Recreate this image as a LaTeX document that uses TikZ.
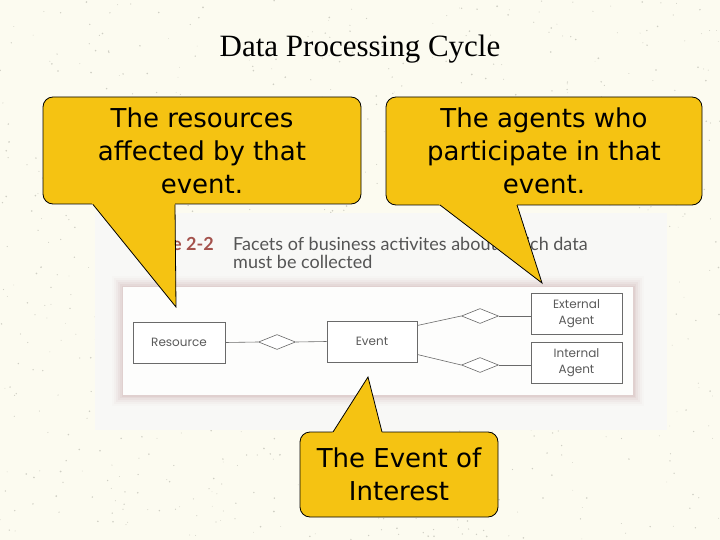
\documentclass[tikz,border=0pt]{standalone}
\usepackage{fontspec}
\setmainfont{Liberation Serif}
\newfontfamily\calloutfont{DejaVu Sans}
\newfontfamily\captionfont{Lato}
\newfontfamily\erfont{Poppins}
\usetikzlibrary{shapes.geometric,calc}
\definecolor{bg}{HTML}{FCFBF0}
\definecolor{speck}{HTML}{9A9A90}
\definecolor{callyellow}{HTML}{F5C312}
\definecolor{figbg}{HTML}{F8F8F6}
\definecolor{shadowpink}{HTML}{C09A9A}
\definecolor{captiongray}{HTML}{555555}
\definecolor{figred}{HTML}{A4524C}
\definecolor{ergray}{HTML}{6A6A6A}
\begin{document}
\begin{tikzpicture}[x=1pt,y=-1pt,
  callout/.style={draw=black, line width=0.8pt, fill=callyellow, rounded corners=10pt,
    align=center, inner sep=0pt, font=\calloutfont\fontsize{26}{33}\selectfont},
  pointeredge/.style={draw=black, line width=0.8pt, line join=miter},
  entity/.style={draw=ergray, line width=0.6pt, fill=white, minimum width=91pt,
    minimum height=41pt, align=center, inner sep=0pt, text=ergray!85!black,
    font=\erfont\fontsize{12}{15.5}\selectfont},
  rel/.style={diamond, draw=ergray, line width=0.6pt, fill=white, minimum width=37pt,
    minimum height=15pt, inner sep=0pt},
  link/.style={draw=ergray, line width=0.6pt},
]
% background
\fill[bg] (0,0) rectangle (720,540);
\useasboundingbox (0,0) rectangle (720,540);
\pgfmathsetseed{7}
\foreach \i in {1,...,900}{
  \pgfmathsetmacro\px{720*rnd}
  \pgfmathsetmacro\py{540*rnd}
  \pgfmathsetmacro\pr{0.35+0.6*rnd}
  \fill[speck, opacity=0.45] (\px,\py) circle (\pr pt);
}
% title
\node[font=\fontsize{31}{31}\selectfont, anchor=base, inner sep=0pt] (title) at (360,57) {Data Processing Cycle};
% figure
\fill[figbg] (95,213) rectangle (667,430);
\foreach \d/\o in {11/0.03,9/0.05,7/0.07,5/0.09,3/0.11,1.5/0.13}{
  \fill[shadowpink, opacity=\o] ({123-\d},{287-\d}) rectangle ({633+\d},{395+\d});
}
\fill[white!70!figbg] (123,287) rectangle (633,395);
\node[anchor=base east, inner sep=0pt, font=\captionfont\bfseries\fontsize{18}{18}\selectfont, text=figred] (fignum) at (214,251) {\textcolor{figred!30}{F}igure 2-2};
\node[anchor=base west, inner sep=0pt, font=\captionfont\fontsize{18}{18}\selectfont, text=captiongray] (cap1) at (233,251) {Facets of business activites about which data};
\node[anchor=base west, inner sep=0pt, font=\captionfont\fontsize{18}{18}\selectfont, text=captiongray] (cap2) at (233,268) {must be collected};
% ER diagram
\node[entity, minimum width=92pt] (res) at (179,342.5) {Resource};
\node[entity, minimum width=90pt] (evt) at (372,341.5) {Event};
\node[entity] (ext) at (576.5,313.5) {External\\Agent};
\node[entity] (int) at (576.5,362.5) {Internal\\Agent};
\node[rel] (r1) at (277,342) {};
\node[rel] (r2) at (480,316) {};
\node[rel] (r3) at (480,365) {};
\draw[link] (res.east) -- (r1.west);
\draw[link] (r1.east) -- (evt.west);
\draw[link] ($(evt.east)+(0,-16)$) -- (r2.west);
\draw[link] (r2.east) -- (r2.east -| ext.west);
\draw[link] ($(evt.east)+(0,13)$) -- (r3.west);
\draw[link] (r3.east) -- (r3.east -| int.west);
% callout 1
\node[callout, minimum width=318pt, minimum height=107pt] (c1) at (202,150.5) {The resources\\affected by that\\event.};
\coordinate (t1) at (176,307);
\coordinate (a1) at (93,204.5);
\coordinate (b1) at (175,204.5);
\fill[callyellow] ($(t1)!1.04!(a1)$) -- (t1) -- ($(t1)!1.04!(b1)$) -- cycle;
\draw[pointeredge] (a1) -- (t1) -- (b1);
% callout 2
\node[callout, minimum width=316pt, minimum height=108pt] (c2) at (544,151) {The agents who\\participate in that\\event.};
\coordinate (t2) at (542,283);
\coordinate (a2) at (440,205);
\coordinate (b2) at (517,205);
\fill[callyellow] ($(t2)!1.04!(a2)$) -- (t2) -- ($(t2)!1.04!(b2)$) -- cycle;
\draw[pointeredge] (a2) -- (t2) -- (b2);
% callout 3
\node[callout, minimum width=198pt, minimum height=85pt] (c3) at (399,474.5) {The Event of\\Interest};
\coordinate (t3) at (368,377);
\coordinate (a3) at (333,432);
\coordinate (b3) at (382,432);
\fill[callyellow] ($(t3)!1.06!(a3)$) -- (t3) -- ($(t3)!1.06!(b3)$) -- cycle;
\draw[pointeredge] (a3) -- (t3) -- (b3);
\end{tikzpicture}
\end{document}
